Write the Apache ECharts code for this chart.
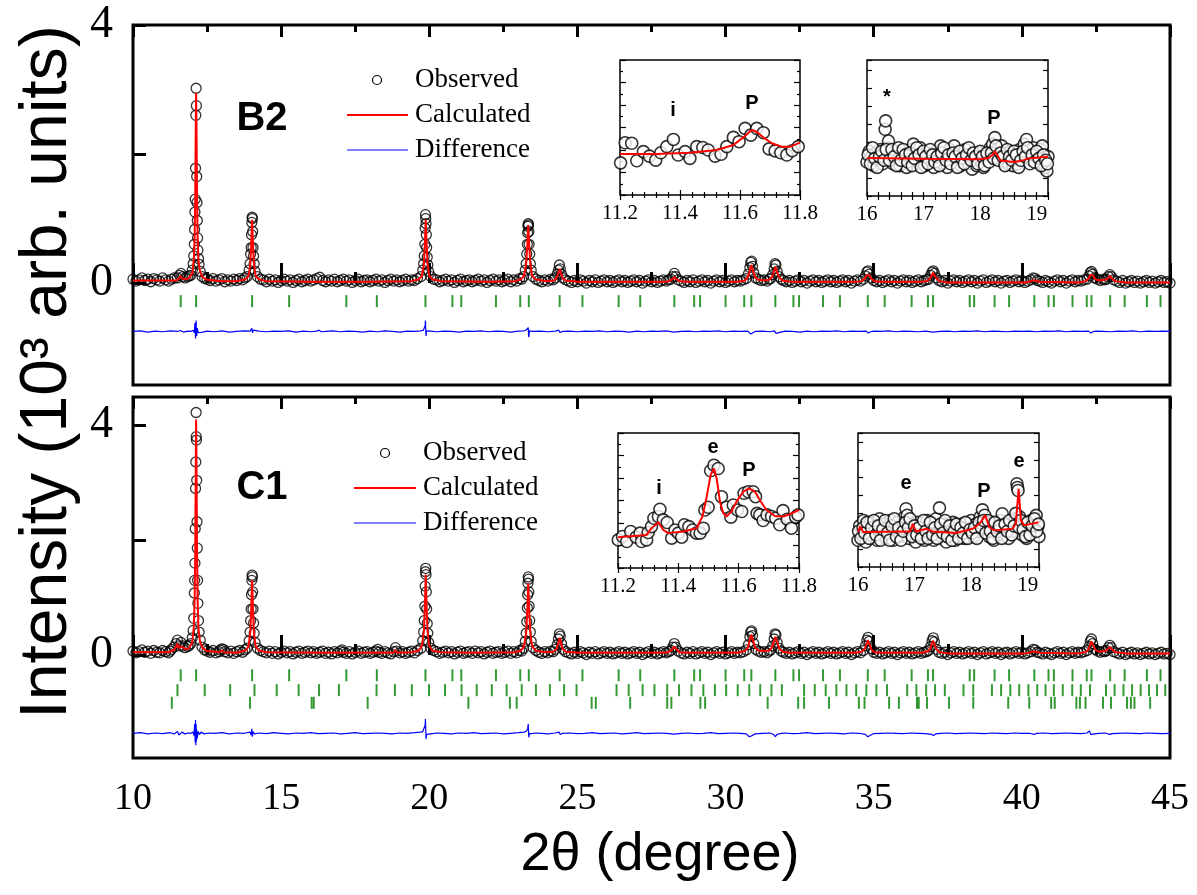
<!DOCTYPE html>
<html><head><meta charset="utf-8">
<script src="https://cdn.jsdelivr.net/npm/echarts@6/dist/echarts.min.js"></script>
<style>html,body{margin:0;padding:0;background:#fff}#c{width:1197px;height:895px}</style>
</head><body><div id="c"></div>
<script>
// ---------------- DATA ----------------
const xTickLabels = [10, 15, 20, 25, 30, 35, 40, 45];
const yTickLabels = [0, 4];

// B2 panel (units of 10^3 counts)
const b2Obs = [[10.0,.06],[10.1,.03],[10.2,.05],[10.3,.08],[10.4,.04],[10.5,.06],[10.6,.02],[10.7,.07],[10.8,.05],[10.9,.03],[11.0,.08],[11.1,.05],[11.2,.03],[11.3,.06],[11.4,.08],
[11.5,.08],[11.57,.12],[11.62,.15],[11.68,.1],[11.76,.08],[11.84,.1],[11.9,.11],
[11.95,.12],[12.0,.2],[12.03,.3],[12.05,.42],[12.07,.6],[12.08,.83],[12.09,1.1],[12.1,1.3],[12.11,1.78],[12.12,2.6],[12.13,3.02],[12.14,2.75],[12.15,1.65],[12.16,1.25],[12.17,.97],[12.18,.7],[12.19,.51],[12.21,.38],[12.23,.29],[12.27,.18],[12.33,.1],[12.42,.07],
[12.5,.06],[12.6,.04],[12.7,.07],[12.8,.03],[12.9,.05],[13.0,.07],[13.1,.02],[13.2,.05],[13.3,.03],[13.4,.06],[13.5,.04],[13.6,.07],[13.7,.05],[13.78,.08],
[13.85,.1],[13.92,.2],[13.95,.3],[13.97,.45],[13.99,.55],[14.0,.75],[14.01,.94],[14.02,1.02],[14.03,1.0],[14.04,.8],[14.05,.55],[14.07,.42],[14.09,.3],[14.12,.18],[14.2,.1],[14.3,.06],
[14.4,.05],[14.5,.02],[14.6,.06],[14.7,.03],[14.8,.05],[14.9,.01],[15.0,.04],[15.1,.06],[15.2,.03],[15.3,.05],[15.4,.01],[15.5,.04],[15.6,.06],[15.7,.02],[15.8,.04],[15.9,.06],[16.0,.03],[16.1,.05],[16.2,.07],[16.3,.09],[16.4,.04],[16.5,.02],[16.6,.05],[16.7,.03],[16.8,.06],[16.9,.02],[17.0,.04],[17.1,.06],[17.2,.03],[17.3,.05],[17.4,.01],[17.5,.04],[17.6,.06],[17.7,.02],[17.8,.04],[17.9,.05],[18.0,.02],[18.1,.04],[18.2,.06],[18.3,.03],[18.4,.05],[18.5,.01],[18.6,.04],[18.7,.06],[18.8,.03],[18.9,.05],[19.0,.02],[19.1,.04],[19.2,.06],[19.3,.03],[19.4,.05],[19.5,.04],[19.6,.07],
[19.72,.1],[19.78,.2],[19.81,.3],[19.83,.42],[19.85,.6],[19.86,.85],[19.87,1.06],[19.88,1.0],[19.89,.92],[19.9,.75],[19.91,.55],[19.93,.4],[19.95,.28],[19.98,.18],[20.05,.1],[20.15,.06],
[20.25,.05],[20.35,.02],[20.45,.04],[20.55,.06],[20.65,.03],[20.75,.05],[20.85,.01],[20.95,.04],[21.05,.06],[21.15,.02],[21.25,.04],[21.35,.05],[21.45,.02],[21.55,.04],[21.65,.06],[21.75,.03],[21.85,.05],[21.95,.01],[22.05,.04],[22.15,.06],[22.25,.03],[22.35,.05],[22.45,.02],[22.55,.04],[22.65,.06],[22.75,.02],[22.85,.05],[22.95,.03],[23.05,.07],[23.12,.06],
[23.18,.1],[23.24,.2],[23.27,.3],[23.29,.45],[23.31,.6],[23.32,.78],[23.33,.88],[23.34,.92],[23.35,.9],[23.36,.8],[23.37,.6],[23.39,.45],[23.41,.3],[23.44,.2],[23.5,.1],[23.6,.06],
[23.7,.04],[23.8,.02],[23.9,.05],[24.0,.03],[24.1,.06],[24.18,.05],
[24.25,.08],[24.32,.14],[24.36,.2],[24.39,.28],[24.42,.22],[24.46,.14],[24.52,.08],
[24.6,.05],[24.7,.03],[24.8,.01],[24.9,.04],[25.0,.02],[25.1,.05],[25.2,.03],[25.3,0],[25.4,.04],[25.5,.02],[25.6,.05],[25.7,.01],[25.8,.03],[25.9,.05],[26.0,.02],[26.1,.04],[26.2,.01],[26.3,.03],[26.4,.05],[26.5,.02],[26.6,.04],[26.7,.01],[26.8,.03],[26.9,.05],[27.0,.02],[27.1,.04],[27.2,0],[27.3,.03],[27.4,.05],[27.5,.02],[27.6,.04],[27.7,.01],[27.8,.03],[27.9,.05],[28.0,.03],[28.08,.05],
[28.15,.06],[28.22,.1],[28.27,.15],[28.32,.1],[28.4,.05],
[28.5,.03],[28.6,.01],[28.7,.04],[28.8,.02],[28.9,.05],[29.0,.01],[29.1,.03],[29.2,.05],[29.3,.02],[29.4,.04],[29.5,0],[29.6,.03],[29.7,.05],[29.8,.02],[29.9,.04],[30.0,.01],[30.1,.03],[30.2,.05],[30.3,.02],[30.4,.04],[30.5,.03],[30.6,.05],
[30.7,.07],[30.77,.14],[30.82,.24],[30.85,.32],[30.88,.34],[30.91,.26],[30.95,.16],[31.02,.08],
[31.1,.06],[31.2,.04],[31.3,.05],[31.4,.03],[31.47,.06],
[31.52,.07],[31.59,.13],[31.64,.22],[31.67,.3],[31.7,.28],[31.74,.18],[31.8,.1],[31.88,.06],
[31.95,.04],[32.05,.02],[32.15,.04],[32.25,.01],[32.35,.03],[32.45,.05],[32.55,.02],[32.65,.04],[32.75,0],[32.85,.03],[32.95,.05],[33.05,.02],[33.15,.04],[33.25,.01],[33.35,.03],[33.45,.05],[33.55,.02],[33.65,.04],[33.75,.01],[33.85,.03],[33.95,.05],[34.05,.02],[34.15,.04],[34.25,0],[34.35,.03],[34.45,.05],[34.55,.03],
[34.65,.06],[34.72,.11],[34.77,.17],[34.81,.19],[34.85,.14],[34.92,.08],
[35.0,.04],[35.1,.02],[35.2,.04],[35.3,.01],[35.4,.03],[35.5,.05],[35.6,.02],[35.7,.04],[35.8,0],[35.9,.03],[36.0,.05],[36.1,.02],[36.2,.04],[36.3,.01],[36.4,.03],[36.5,.05],[36.6,.02],[36.7,.04],[36.78,.05],
[36.85,.06],[36.92,.12],[36.97,.17],[37.01,.19],[37.05,.15],[37.12,.08],
[37.2,.04],[37.3,.02],[37.4,.04],[37.5,0],[37.6,.03],[37.7,.05],[37.8,.02],[37.9,.04],[38.0,.01],[38.1,.03],[38.2,.05],[38.3,.02],[38.4,.04],[38.5,0],[38.6,.03],[38.7,.05],[38.8,.01],[38.9,.03],[39.0,.05],[39.1,.02],[39.2,.04],[39.3,0],[39.4,.03],[39.5,.04],[39.6,.01],[39.7,.03],[39.8,.05],[39.9,.02],[40.0,.04],[40.1,.01],[40.2,.03],
[40.3,.05],[40.38,.08],[40.45,.07],[40.52,.04],
[40.6,.03],[40.7,.01],[40.8,.04],[40.9,.02],[41.0,0],[41.1,.03],[41.2,.05],[41.3,.02],[41.4,.04],[41.5,0],[41.6,.03],[41.7,.05],[41.8,.02],[41.9,.04],[42.0,.03],[42.1,.05],
[42.2,.06],[42.27,.11],[42.31,.16],[42.35,.18],[42.39,.14],[42.46,.08],[42.55,.06],[42.65,.04],[42.75,.06],[42.8,.05],
[42.85,.06],[42.92,.1],[42.97,.13],[43.02,.1],[43.1,.05],
[43.2,.03],[43.3,.01],[43.4,.04],[43.5,0],[43.6,.02],[43.7,.04],[43.8,.01],[43.9,.03],[44.0,0],[44.1,.02],[44.2,.04],[44.3,.01],[44.4,.03],[44.5,0],[44.6,.02],[44.7,.04],[44.8,.01],[44.9,.02],[45.0,0]];

const b2Calc = [[10,.04],[11,.04],[11.45,.04],[11.55,.07],[11.6,.11],[11.66,.07],[11.8,.06],[11.9,.08],[12.0,.15],[12.05,.35],[12.08,.7],[12.1,1.3],[12.12,2.5],[12.13,2.95],[12.14,2.6],[12.16,1.4],[12.18,.7],[12.21,.35],[12.26,.18],[12.35,.09],[12.5,.05],[13.0,.03],[13.5,.03],[13.8,.06],[13.9,.11],[13.96,.3],[13.99,.6],[14.02,.98],[14.05,.6],[14.08,.3],[14.14,.11],[14.25,.06],[14.5,.03],[16,.02],[18,.02],[19.4,.03],[19.65,.06],[19.75,.11],[19.82,.3],[19.85,.6],[19.88,.98],[19.91,.6],[19.94,.3],[20.0,.11],[20.1,.06],[20.4,.03],[22,.02],[22.9,.03],[23.1,.06],[23.2,.11],[23.27,.3],[23.31,.6],[23.34,.9],[23.37,.6],[23.41,.3],[23.47,.11],[23.58,.06],[23.9,.03],[24.2,.04],[24.3,.08],[24.36,.16],[24.4,.22],[24.44,.16],[24.5,.08],[24.6,.04],[25,.02],[28.0,.02],[28.1,.03],[28.2,.06],[28.27,.09],[28.34,.06],[28.45,.03],[28.7,.02],[30.4,.02],[30.65,.04],[30.75,.09],[30.82,.2],[30.87,.28],[30.92,.2],[31.0,.09],[31.1,.05],[31.3,.04],[31.47,.05],[31.57,.09],[31.63,.18],[31.68,.25],[31.73,.18],[31.81,.09],[31.92,.04],[32.2,.02],[34.4,.02],[34.6,.03],[34.7,.07],[34.76,.12],[34.8,.15],[34.85,.12],[34.92,.07],[35.02,.03],[35.3,.02],[36.6,.02],[36.8,.03],[36.9,.07],[36.96,.12],[37.0,.16],[37.05,.12],[37.12,.07],[37.22,.03],[37.5,.01],[40.1,.01],[40.25,.02],[40.35,.04],[40.41,.05],[40.48,.04],[40.58,.02],[41.9,.01],[42.15,.03],[42.25,.07],[42.3,.12],[42.35,.15],[42.4,.12],[42.48,.06],[42.6,.04],[42.8,.05],[42.9,.07],[42.97,.11],[43.04,.07],[43.15,.03],[43.5,.01],[45,.01]];

const b2Diff = [[10,-.75],[10.25,-.74],[10.5,-.76],[10.75,-.745],[11,-.755],[11.25,-.74],[11.5,-.75],[11.6,-.735],[11.7,-.76],[11.85,-.745],[11.95,-.75],[12.03,-.73],[12.07,-.77],[12.09,-.62],[12.1,-.68],[12.11,-.86],[12.12,-.64],[12.13,-.58],[12.14,-.78],[12.15,-.82],[12.17,-.7],[12.2,-.77],[12.25,-.74],[12.35,-.76],[12.5,-.745],[12.75,-.755],[13,-.74],[13.25,-.76],[13.5,-.75],[13.75,-.74],[13.95,-.745],[14.0,-.72],[14.01,-.7],[14.03,-.77],[14.06,-.73],[14.12,-.755],[14.25,-.745],[14.5,-.755],[14.75,-.745],[15,-.75],[15.25,-.74],[15.5,-.76],[15.75,-.745],[16,-.755],[16.2,-.745],[16.28,-.73],[16.35,-.755],[16.5,-.75],[16.75,-.74],[17,-.755],[17.25,-.745],[17.5,-.75],[17.75,-.76],[18,-.745],[18.25,-.755],[18.5,-.74],[18.75,-.75],[19,-.76],[19.25,-.745],[19.5,-.75],[19.7,-.74],[19.8,-.73],[19.84,-.7],[19.86,-.66],[19.87,-.58],[19.88,-.72],[19.89,-.82],[19.91,-.74],[19.95,-.77],[20.05,-.745],[20.25,-.755],[20.5,-.745],[20.75,-.75],[21,-.76],[21.25,-.745],[21.5,-.75],[21.75,-.74],[22,-.755],[22.25,-.745],[22.5,-.75],[22.75,-.76],[23,-.745],[23.2,-.74],[23.28,-.725],[23.32,-.71],[23.34,-.69],[23.35,-.8],[23.36,-.84],[23.38,-.74],[23.42,-.765],[23.5,-.75],[23.75,-.745],[24,-.755],[24.25,-.745],[24.37,-.73],[24.41,-.765],[24.5,-.75],[24.75,-.745],[25,-.755],[25.25,-.745],[25.5,-.75],[25.75,-.74],[26,-.755],[26.25,-.745],[26.5,-.75],[26.75,-.76],[27,-.745],[27.25,-.755],[27.5,-.745],[27.75,-.75],[28,-.74],[28.25,-.76],[28.5,-.75],[28.75,-.745],[29,-.755],[29.25,-.745],[29.5,-.75],[29.75,-.74],[30,-.755],[30.25,-.745],[30.5,-.75],[30.75,-.745],[30.85,-.79],[30.9,-.77],[31,-.75],[31.25,-.745],[31.5,-.755],[31.65,-.74],[31.7,-.78],[31.75,-.755],[32,-.745],[32.25,-.75],[32.5,-.76],[32.75,-.745],[33,-.755],[33.25,-.745],[33.5,-.75],[33.75,-.74],[34,-.755],[34.25,-.745],[34.5,-.75],[34.75,-.745],[34.82,-.775],[34.9,-.755],[35,-.745],[35.25,-.75],[35.5,-.74],[35.75,-.755],[36,-.745],[36.25,-.75],[36.5,-.755],[36.75,-.745],[37,-.76],[37.05,-.745],[37.25,-.75],[37.5,-.745],[37.75,-.755],[38,-.745],[38.25,-.75],[38.5,-.74],[38.75,-.755],[39,-.745],[39.25,-.75],[39.5,-.755],[39.75,-.745],[40,-.75],[40.25,-.745],[40.5,-.755],[40.75,-.745],[41,-.75],[41.25,-.74],[41.5,-.755],[41.75,-.745],[42,-.75],[42.25,-.745],[42.33,-.775],[42.4,-.755],[42.5,-.745],[42.75,-.75],[43,-.755],[43.25,-.745],[43.5,-.75],[43.75,-.74],[44,-.755],[44.25,-.745],[44.5,-.75],[44.75,-.745],[45,-.75]];

const b2Ticks = [11.61,12.13,14.02,15.27,17.20,18.23,19.87,20.78,21.08,22.25,23.07,23.36,24.40,25.17,26.39,27.12,28.27,28.94,29.14,30.00,30.63,30.87,31.68,32.29,32.48,33.29,33.86,34.80,35.37,36.28,36.83,37.00,38.24,38.39,39.08,39.57,40.42,40.90,41.08,41.71,42.19,42.35,42.98,43.47,44.22,44.68];

// C1 panel
const c1Obs = [[10.0,.07],[10.1,.04],[10.2,.06],[10.3,.09],[10.4,.05],[10.5,.07],[10.6,.03],[10.7,.08],[10.8,.05],[10.9,.04],[11.0,.08],[11.1,.06],[11.2,.04],[11.25,.07],
[11.3,.1],[11.38,.14],[11.45,.2],[11.5,.26],[11.55,.16],[11.62,.22],[11.68,.16],[11.75,.13],[11.85,.15],[11.9,.17],
[11.95,.2],[12.0,.3],[12.03,.43],[12.05,.64],[12.07,1.08],[12.08,1.3],[12.09,1.6],[12.1,2.2],[12.11,2.9],[12.12,3.36],[12.13,4.22],[12.135,3.8],[12.14,3.74],[12.15,3.04],[12.16,2.32],[12.17,1.86],[12.18,1.3],[12.19,.9],[12.21,.6],[12.23,.4],[12.27,.26],[12.33,.14],[12.42,.09],
[12.5,.07],[12.6,.05],[12.7,.08],[12.8,.04],[12.9,.06],[12.95,.09],[13.0,.11],[13.05,.1],[13.1,.06],[13.2,.04],[13.3,.07],[13.4,.03],[13.5,.06],[13.6,.08],[13.7,.05],[13.78,.09],
[13.85,.12],[13.92,.25],[13.95,.4],[13.97,.6],[13.99,.8],[14.0,1.05],[14.01,1.3],[14.02,1.39],[14.03,1.36],[14.04,1.1],[14.05,.8],[14.07,.56],[14.09,.38],[14.12,.22],[14.2,.12],[14.3,.08],
[14.4,.06],[14.5,.04],[14.6,.07],[14.7,.03],[14.8,.06],[14.9,.02],[15.0,.05],[15.1,.07],[15.2,.04],[15.3,.06],[15.4,.02],[15.5,.05],[15.6,.07],[15.7,.03],[15.8,.05],[15.9,.07],[16.0,.04],[16.1,.06],[16.2,.03],[16.3,.05],[16.4,.07],[16.5,.03],[16.6,.05],[16.7,.02],[16.8,.06],[16.9,.04],[17.0,.07],[17.06,.09],[17.1,.05],[17.2,.03],[17.3,.06],[17.4,.02],[17.5,.05],[17.6,.07],[17.7,.03],[17.8,.05],[17.9,.06],[18.0,.03],[18.1,.05],[18.2,.07],[18.26,.1],[18.3,.05],[18.4,.03],[18.5,.06],[18.6,.04],[18.7,.02],[18.8,.06],[18.86,.13],[18.9,.07],[19.0,.04],[19.1,.06],[19.2,.03],[19.3,.05],[19.4,.07],[19.5,.04],[19.6,.08],
[19.72,.12],[19.78,.25],[19.81,.4],[19.83,.6],[19.85,.85],[19.86,1.2],[19.87,1.45],[19.88,1.51],[19.89,1.4],[19.9,1.1],[19.91,.8],[19.93,.55],[19.95,.38],[19.98,.22],[20.05,.12],[20.15,.08],
[20.25,.06],[20.35,.03],[20.45,.05],[20.55,.07],[20.65,.04],[20.75,.06],[20.85,.02],[20.95,.05],[21.05,.07],[21.15,.03],[21.25,.05],[21.35,.06],[21.45,.03],[21.55,.07],[21.65,.04],[21.75,.06],[21.85,.02],[21.95,.05],[22.05,.07],[22.15,.03],[22.25,.05],[22.35,.06],[22.45,.03],[22.55,.05],[22.65,.07],[22.75,.03],[22.85,.06],[22.95,.04],[23.05,.08],[23.12,.07],
[23.18,.12],[23.24,.24],[23.27,.38],[23.29,.58],[23.31,.82],[23.32,1.05],[23.33,1.25],[23.34,1.36],[23.35,1.32],[23.36,1.1],[23.37,.85],[23.39,.6],[23.41,.4],[23.44,.24],[23.5,.13],[23.6,.08],
[23.7,.05],[23.8,.03],[23.9,.06],[24.0,.04],[24.1,.07],[24.18,.06],
[24.25,.1],[24.32,.18],[24.36,.28],[24.39,.37],[24.42,.33],[24.46,.2],[24.52,.1],
[24.6,.06],[24.7,.04],[24.8,.02],[24.9,.05],[25.0,.03],[25.1,.06],[25.2,.04],[25.3,.01],[25.4,.05],[25.5,.03],[25.6,.06],[25.7,.02],[25.8,.04],[25.9,.06],[26.0,.03],[26.1,.05],[26.2,.02],[26.3,.04],[26.4,.06],[26.5,.03],[26.6,.05],[26.7,.02],[26.8,.04],[26.9,.06],[27.0,.03],[27.1,.05],[27.2,.01],[27.3,.04],[27.4,.06],[27.5,.03],[27.6,.05],[27.7,.02],[27.8,.04],[27.9,.06],[28.0,.04],[28.08,.06],
[28.15,.08],[28.22,.14],[28.27,.2],[28.32,.14],[28.4,.07],
[28.5,.04],[28.6,.02],[28.7,.05],[28.8,.03],[28.9,.06],[29.0,.02],[29.1,.04],[29.2,.06],[29.3,.03],[29.4,.05],[29.5,.01],[29.6,.04],[29.7,.06],[29.8,.03],[29.9,.05],[30.0,.02],[30.1,.04],[30.2,.06],[30.3,.03],[30.4,.05],[30.5,.04],[30.6,.06],
[30.7,.09],[30.77,.18],[30.82,.32],[30.85,.4],[30.88,.42],[30.91,.34],[30.95,.2],[31.02,.1],
[31.1,.07],[31.2,.05],[31.3,.06],[31.4,.04],[31.47,.07],
[31.52,.09],[31.59,.16],[31.64,.28],[31.67,.37],[31.7,.35],[31.74,.22],[31.8,.12],[31.88,.07],
[31.95,.05],[32.05,.03],[32.15,.05],[32.25,.02],[32.35,.04],[32.45,.06],[32.55,.03],[32.65,.05],[32.75,.01],[32.85,.04],[32.95,.06],[33.05,.03],[33.15,.05],[33.25,.02],[33.35,.04],[33.45,.06],[33.55,.03],[33.65,.05],[33.75,.02],[33.85,.04],[33.95,.06],[34.05,.03],[34.15,.05],[34.25,.01],[34.35,.04],[34.45,.06],[34.55,.04],
[34.65,.08],[34.72,.16],[34.77,.26],[34.81,.31],[34.85,.24],[34.92,.11],
[35.0,.05],[35.1,.03],[35.2,.05],[35.3,.02],[35.4,.04],[35.5,.06],[35.6,.03],[35.7,.05],[35.8,.01],[35.9,.04],[36.0,.06],[36.1,.03],[36.2,.05],[36.3,.02],[36.4,.04],[36.5,.06],[36.6,.03],[36.7,.05],[36.78,.06],
[36.85,.08],[36.92,.15],[36.97,.25],[37.01,.3],[37.05,.23],[37.12,.1],
[37.2,.05],[37.3,.03],[37.4,.05],[37.5,.01],[37.6,.04],[37.7,.06],[37.8,.03],[37.9,.05],[38.0,.02],[38.1,.04],[38.2,.06],[38.3,.03],[38.4,.05],[38.5,.01],[38.6,.04],[38.7,.06],[38.8,.02],[38.9,.04],[39.0,.06],[39.1,.03],[39.2,.05],[39.3,.01],[39.4,.04],[39.5,.05],[39.6,.02],[39.7,.04],[39.8,.06],[39.9,.03],[40.0,.05],[40.1,.02],[40.2,.04],
[40.3,.06],[40.38,.1],[40.45,.09],[40.52,.05],
[40.6,.04],[40.7,.02],[40.8,.05],[40.9,.03],[41.0,.01],[41.1,.04],[41.2,.06],[41.3,.03],[41.4,.05],[41.5,.01],[41.6,.04],[41.7,.06],[41.8,.03],[41.9,.05],[42.0,.04],[42.1,.06],
[42.2,.08],[42.27,.15],[42.31,.24],[42.35,.28],[42.39,.2],[42.46,.1],[42.55,.07],[42.65,.05],[42.75,.07],[42.8,.06],
[42.85,.08],[42.92,.13],[42.97,.17],[43.02,.13],[43.1,.06],
[43.2,.04],[43.3,.02],[43.4,.05],[43.5,.01],[43.6,.03],[43.7,.05],[43.8,.02],[43.9,.04],[44.0,.01],[44.1,.03],[44.2,.05],[44.3,.02],[44.4,.04],[44.5,.01],[44.6,.03],[44.7,.05],[44.8,.02],[44.9,.03],[45.0,.01]];

const c1Calc = [[10,.05],[11.2,.05],[11.35,.08],[11.45,.14],[11.5,.2],[11.55,.12],[11.62,.15],[11.68,.12],[11.8,.1],[11.9,.13],[12.0,.22],[12.05,.48],[12.08,.95],[12.1,1.75],[12.12,3.4],[12.13,4.1],[12.14,3.6],[12.16,1.9],[12.18,.95],[12.21,.46],[12.26,.24],[12.35,.12],[12.5,.07],[12.9,.05],[13.0,.08],[13.08,.05],[13.5,.04],[13.8,.08],[13.9,.15],[13.96,.4],[13.99,.8],[14.02,1.3],[14.05,.8],[14.08,.4],[14.14,.15],[14.25,.08],[14.5,.05],[16.3,.04],[17.0,.04],[17.06,.06],[17.12,.04],[18.2,.04],[18.26,.06],[18.32,.04],[18.8,.04],[18.86,.09],[18.92,.04],[19.4,.05],[19.65,.08],[19.75,.16],[19.82,.42],[19.85,.85],[19.88,1.4],[19.91,.85],[19.94,.42],[20.0,.16],[20.1,.08],[20.4,.05],[21.5,.04],[22.9,.05],[23.1,.08],[23.2,.16],[23.27,.38],[23.31,.8],[23.34,1.25],[23.37,.8],[23.41,.38],[23.47,.16],[23.58,.08],[23.9,.05],[24.2,.06],[24.3,.11],[24.36,.22],[24.4,.3],[24.44,.22],[24.5,.11],[24.6,.06],[25,.04],[28.0,.04],[28.1,.06],[28.2,.1],[28.27,.15],[28.34,.1],[28.45,.05],[28.7,.04],[30.4,.04],[30.65,.07],[30.75,.13],[30.82,.27],[30.87,.36],[30.92,.27],[31.0,.13],[31.1,.08],[31.3,.07],[31.47,.08],[31.57,.13],[31.63,.24],[31.68,.32],[31.73,.24],[31.81,.12],[31.92,.06],[32.2,.04],[34.4,.04],[34.6,.06],[34.7,.11],[34.76,.2],[34.8,.26],[34.85,.2],[34.92,.1],[35.02,.05],[35.3,.04],[36.6,.04],[36.8,.06],[36.9,.1],[36.96,.19],[37.0,.25],[37.05,.19],[37.12,.1],[37.22,.05],[37.5,.03],[40.1,.03],[40.25,.04],[40.35,.06],[40.41,.08],[40.48,.06],[40.58,.04],[41.9,.03],[42.15,.05],[42.25,.1],[42.3,.18],[42.35,.24],[42.4,.18],[42.48,.09],[42.6,.06],[42.8,.07],[42.9,.1],[42.97,.14],[43.04,.1],[43.15,.05],[43.5,.03],[45,.03]];

const c1Diff = [[10,-1.36],[10.25,-1.35],[10.5,-1.37],[10.75,-1.355],[11,-1.365],[11.25,-1.35],[11.4,-1.37],[11.5,-1.33],[11.55,-1.39],[11.65,-1.34],[11.75,-1.37],[11.85,-1.355],[11.95,-1.36],[12.03,-1.34],[12.06,-1.4],[12.08,-1.2],[12.1,-1.52],[12.11,-1.13],[12.12,-1.57],[12.13,-1.2],[12.14,-1.5],[12.15,-1.3],[12.17,-1.45],[12.2,-1.33],[12.25,-1.38],[12.3,-1.34],[12.4,-1.37],[12.55,-1.355],[12.75,-1.36],[13,-1.35],[13.25,-1.37],[13.5,-1.355],[13.75,-1.36],[13.95,-1.34],[13.99,-1.39],[14.01,-1.28],[14.03,-1.42],[14.05,-1.33],[14.1,-1.37],[14.25,-1.355],[14.5,-1.365],[14.75,-1.35],[15,-1.36],[15.25,-1.37],[15.5,-1.355],[15.75,-1.36],[16,-1.35],[16.25,-1.365],[16.5,-1.36],[16.75,-1.355],[17,-1.37],[17.25,-1.36],[17.5,-1.35],[17.75,-1.365],[18,-1.36],[18.25,-1.355],[18.5,-1.36],[18.75,-1.37],[19,-1.355],[19.25,-1.36],[19.5,-1.35],[19.7,-1.34],[19.78,-1.33],[19.83,-1.3],[19.86,-1.22],[19.87,-1.11],[19.88,-1.3],[19.89,-1.46],[19.91,-1.38],[19.95,-1.36],[20.1,-1.365],[20.25,-1.355],[20.5,-1.36],[20.75,-1.37],[21,-1.355],[21.25,-1.36],[21.5,-1.35],[21.75,-1.365],[22,-1.36],[22.25,-1.355],[22.5,-1.37],[22.75,-1.36],[23,-1.35],[23.2,-1.34],[23.28,-1.32],[23.32,-1.28],[23.34,-1.2],[23.35,-1.34],[23.36,-1.43],[23.38,-1.36],[23.45,-1.365],[23.6,-1.355],[23.8,-1.36],[24,-1.37],[24.25,-1.355],[24.38,-1.34],[24.42,-1.38],[24.5,-1.36],[24.75,-1.355],[25,-1.365],[25.25,-1.36],[25.5,-1.35],[25.75,-1.365],[26,-1.36],[26.25,-1.355],[26.5,-1.37],[26.75,-1.36],[27,-1.35],[27.25,-1.365],[27.5,-1.36],[27.75,-1.355],[28,-1.36],[28.25,-1.375],[28.5,-1.36],[28.75,-1.355],[29,-1.365],[29.25,-1.36],[29.5,-1.35],[29.75,-1.365],[30,-1.36],[30.25,-1.355],[30.5,-1.36],[30.7,-1.37],[30.8,-1.42],[30.85,-1.45],[30.9,-1.4],[31,-1.37],[31.25,-1.36],[31.5,-1.355],[31.62,-1.38],[31.68,-1.42],[31.74,-1.38],[31.9,-1.36],[32,-1.355],[32.25,-1.365],[32.5,-1.36],[32.75,-1.35],[33,-1.365],[33.25,-1.36],[33.5,-1.355],[33.75,-1.36],[34,-1.37],[34.25,-1.355],[34.5,-1.36],[34.72,-1.38],[34.8,-1.42],[34.86,-1.39],[35,-1.365],[35.25,-1.36],[35.5,-1.355],[35.75,-1.36],[36,-1.365],[36.25,-1.355],[36.5,-1.36],[36.75,-1.365],[36.95,-1.38],[37.02,-1.4],[37.1,-1.37],[37.25,-1.36],[37.5,-1.355],[37.75,-1.365],[38,-1.36],[38.25,-1.355],[38.5,-1.36],[38.75,-1.365],[39,-1.355],[39.25,-1.36],[39.5,-1.365],[39.75,-1.355],[40,-1.36],[40.25,-1.36],[40.42,-1.38],[40.5,-1.36],[40.75,-1.355],[41,-1.365],[41.25,-1.36],[41.5,-1.355],[41.75,-1.36],[42,-1.365],[42.2,-1.355],[42.28,-1.32],[42.33,-1.38],[42.38,-1.41],[42.45,-1.37],[42.6,-1.36],[42.8,-1.355],[42.97,-1.38],[43.05,-1.365],[43.25,-1.36],[43.5,-1.355],[43.75,-1.36],[44,-1.365],[44.25,-1.355],[44.5,-1.36],[44.75,-1.365],[45,-1.36]];

const c1TicksRow1 = [11.61,12.13,14.02,15.27,17.20,18.23,19.87,20.78,21.08,22.25,23.07,23.36,24.40,25.17,26.39,27.12,28.27,28.94,29.14,30.00,30.63,30.87,31.68,32.29,32.48,33.29,33.86,34.80,35.37,36.28,36.83,37.00,38.24,38.39,39.08,39.57,40.42,40.90,41.08,41.71,42.19,42.35,42.98,43.47,44.22,44.68];
const c1TicksRow2 = [11.50,12.42,13.28,14.10,14.85,15.59,16.28,16.95,18.22,18.84,19.41,19.99,20.53,21.09,21.60,22.11,22.61,23.12,23.60,24.07,24.55,24.97,26.32,26.73,27.20,27.60,28.03,28.43,28.85,29.25,29.64,30.02,30.41,30.80,31.17,31.55,31.90,32.65,33.01,33.38,33.74,34.08,34.41,34.75,35.09,35.45,36.13,36.44,36.77,37.07,37.40,38.03,38.36,38.99,39.30,39.61,39.91,40.22,40.52,40.80,41.08,41.38,41.70,41.99,42.30,42.84,43.13,43.43,43.72,44.01,44.29,44.56,44.84];
const c1TicksRow3 = [11.31,13.95,16.03,16.10,17.92,21.32,22.72,22.95,25.48,25.62,26.78,28.03,28.17,29.15,29.31,31.42,32.45,32.65,33.49,34.50,34.69,35.52,35.85,36.46,36.52,36.80,37.54,38.36,39.54,40.25,40.99,41.11,41.84,41.96,42.15,42.74,43.01,43.55,43.68,43.80,44.33];

// Insets (arbitrary units)
const in1Obs = [[11.202,1.43],[11.217,2.32],[11.239,2.30],[11.256,1.52],[11.278,1.93],[11.298,1.73],[11.319,1.55],[11.336,1.88],[11.356,2.15],[11.378,2.47],[11.394,1.78],[11.417,1.93],[11.433,1.63],[11.456,2.15],[11.476,2.11],[11.494,2.00],[11.517,1.73],[11.537,1.81],[11.556,2.15],[11.578,2.56],[11.597,2.37],[11.617,2.96],[11.636,2.66],[11.656,2.96],[11.678,2.77],[11.697,2.05],[11.717,1.96],[11.736,1.88],[11.756,1.78],[11.774,1.97],[11.794,2.15]];
const in1Calc = [[11.2,1.82],[11.322,1.82],[11.433,1.88],[11.522,2.0],[11.578,2.22],[11.611,2.56],[11.639,2.89],[11.656,2.81],[11.678,2.56],[11.706,2.30],[11.739,2.15],[11.767,2.15],[11.8,2.33]];

const in2Obs = [[16.00,1.9],[16.04,2.5],[16.08,2.2],[16.12,1.7],[16.16,2.4],[16.2,2.0],[16.24,2.6],[16.28,1.8],[16.32,3.73],[16.33,4.2],[16.36,2.7],[16.38,3.07],[16.42,2.3],[16.46,1.8],[16.5,2.5],[16.54,2.1],[16.58,1.7],[16.62,2.4],[16.66,2.0],[16.7,1.6],[16.74,2.2],[16.78,2.6],[16.82,2.9],[16.86,2.3],[16.9,1.9],[16.94,2.7],[16.98,2.1],[17.02,1.7],[17.06,2.4],[17.1,1.9],[17.14,2.2],[17.18,1.6],[17.22,2.5],[17.26,2.0],[17.3,2.8],[17.34,1.8],[17.38,2.3],[17.42,1.6],[17.46,2.6],[17.5,2.1],[17.54,2.8],[17.58,1.9],[17.62,2.4],[17.66,1.7],[17.7,2.2],[17.74,2.6],[17.78,1.8],[17.82,2.3],[17.86,1.5],[17.9,2.0],[17.94,1.7],[17.98,2.4],[18.02,1.9],[18.06,1.6],[18.1,2.2],[18.14,2.0],[18.18,2.7],[18.22,2.9],[18.26,3.26],[18.3,2.6],[18.34,2.2],[18.38,2.8],[18.42,1.9],[18.46,2.4],[18.5,1.8],[18.54,2.5],[18.58,1.7],[18.62,2.1],[18.66,1.8],[18.7,2.6],[18.74,2.2],[18.78,2.9],[18.82,3.16],[18.86,2.5],[18.9,2.0],[18.94,2.7],[18.98,2.3],[19.02,1.9],[19.06,2.6],[19.1,2.8],[19.14,1.6],[19.18,1.4],[19.2,2.2],
[16.02,2.3],[16.06,1.8],[16.1,2.7],[16.14,2.1],[16.18,1.6],[16.22,2.2],[16.26,2.5],[16.3,2.0],[16.34,2.6],[16.4,2.0],[16.44,2.6],[16.48,2.2],[16.52,1.7],[16.56,2.7],[16.6,2.0],[16.64,2.6],[16.68,2.3],[16.72,1.9],[16.76,2.4],[16.8,1.7],[16.84,2.1],[16.88,2.7],[16.92,2.3],[16.96,1.6],[17.0,2.5],[17.04,2.2],[17.08,1.8],[17.12,2.6],[17.16,2.3],[17.2,1.9],[17.24,2.2],[17.28,1.7],[17.32,2.4],[17.36,2.7],[17.4,2.0],[17.44,2.3],[17.48,1.8],[17.52,2.4],[17.56,2.2],[17.6,1.6],[17.64,2.5],[17.68,2.1],[17.72,1.8],[17.76,2.3],[17.8,2.7],[17.84,2.0],[17.88,2.4],[17.92,2.2],[17.96,1.8],[18.0,2.5],[18.04,2.2],[18.08,1.7],[18.12,2.4],[18.16,1.9],[18.2,2.4],[18.24,2.1],[18.28,2.8],[18.32,2.0],[18.36,2.4],[18.4,2.2],[18.44,1.7],[18.48,2.6],[18.52,2.2],[18.56,2.0],[18.6,2.5],[18.64,2.3],[18.68,1.6],[18.72,2.0],[18.76,2.5],[18.8,2.2],[18.84,2.7],[18.88,1.8],[18.92,2.3],[18.96,1.9],[19.0,2.5],[19.04,2.1],[19.08,1.7],[19.12,2.3],[19.16,2.0],[19.19,1.8]];
const in2Calc = [[16,2.13],[17,2.08],[18.0,2.05],[18.15,2.12],[18.22,2.3],[18.26,2.5],[18.3,2.3],[18.36,1.98],[18.6,1.9],[18.75,1.98],[18.85,2.1],[19.2,2.2]];

const in3Obs = [[11.201,1.25],[11.215,1.40],[11.229,1.18],[11.242,1.62],[11.260,1.37],[11.273,1.55],[11.278,1.18],[11.295,1.25],[11.300,1.58],[11.311,1.84],[11.319,2.21],[11.334,2.29],[11.339,2.61],[11.350,2.14],[11.363,2.02],[11.378,1.33],[11.389,1.69],[11.400,1.55],[11.411,1.37],[11.420,1.92],[11.435,1.84],[11.447,1.69],[11.460,1.55],[11.472,1.55],[11.483,1.77],[11.488,2.58],[11.499,2.70],[11.507,4.32],[11.518,4.57],[11.532,4.42],[11.543,3.17],[11.560,2.70],[11.574,2.26],[11.582,2.80],[11.596,2.58],[11.610,2.51],[11.618,3.32],[11.632,3.39],[11.648,3.39],[11.656,3.17],[11.661,2.43],[11.670,2.36],[11.681,2.11],[11.694,2.36],[11.709,2.29],[11.723,2.21],[11.736,1.92],[11.747,2.55],[11.761,2.17],[11.775,1.77],[11.789,2.26],[11.797,2.36]];
const in3Calc = [[11.2,1.37],[11.295,1.47],[11.311,1.77],[11.334,2.03],[11.350,1.69],[11.367,1.55],[11.416,1.62],[11.460,1.77],[11.480,2.29],[11.494,3.17],[11.507,4.13],[11.518,4.42],[11.527,3.98],[11.538,2.95],[11.549,2.43],[11.560,2.29],[11.576,2.51],[11.593,2.95],[11.615,3.39],[11.635,3.54],[11.654,3.39],[11.670,3.02],[11.692,2.58],[11.720,2.31],[11.747,2.29],[11.770,2.39],[11.8,2.58]];

const in4Obs = [[16.0,1.5],[16.03,2.3],[16.07,1.8],[16.1,2.6],[16.14,1.4],[16.18,2.1],[16.22,2.5],[16.26,1.7],[16.3,2.2],[16.34,1.5],[16.38,2.7],[16.42,1.9],[16.46,2.4],[16.5,1.6],[16.54,2.2],[16.58,2.6],[16.62,1.5],[16.66,2.0],[16.7,2.5],[16.74,1.7],[16.78,2.3],[16.82,2.8],[16.85,3.26],[16.87,2.9],[16.9,1.6],[16.94,2.4],[16.98,2.0],[17.02,1.4],[17.06,2.5],[17.1,1.8],[17.14,2.2],[17.18,1.5],[17.22,2.6],[17.26,1.9],[17.3,2.3],[17.34,1.5],[17.38,2.7],[17.42,2.0],[17.44,3.31],[17.48,1.7],[17.52,2.4],[17.56,1.4],[17.6,2.2],[17.64,1.8],[17.68,2.5],[17.72,1.5],[17.76,2.1],[17.8,1.7],[17.84,2.4],[17.88,1.6],[17.92,2.2],[17.96,1.9],[18.0,2.6],[18.04,1.7],[18.08,2.4],[18.12,2.0],[18.16,2.8],[18.2,3.2],[18.24,2.9],[18.28,2.3],[18.32,1.7],[18.36,2.5],[18.4,1.5],[18.44,2.2],[18.48,1.8],[18.52,2.6],[18.55,2.98],[18.58,1.9],[18.62,2.3],[18.66,1.6],[18.7,2.4],[18.74,2.0],[18.78,2.7],[18.81,4.66],[18.82,4.45],[18.83,4.28],[18.86,2.8],[18.9,1.8],[18.94,2.5],[18.98,1.6],[19.02,2.2],[19.06,2.6],[19.1,1.9],[19.15,2.89],[19.18,2.3],[19.2,1.7],
[16.01,2.0],[16.05,1.6],[16.09,2.2],[16.12,1.9],[16.16,2.5],[16.2,1.6],[16.24,2.2],[16.28,2.6],[16.32,1.8],[16.36,2.3],[16.4,1.5],[16.44,2.1],[16.48,2.6],[16.52,1.9],[16.56,1.5],[16.6,2.3],[16.64,2.7],[16.68,1.7],[16.72,2.2],[16.76,1.5],[16.8,2.0],[16.84,2.5],[16.89,2.2],[16.92,2.7],[16.96,1.7],[17.0,2.3],[17.04,1.8],[17.08,2.2],[17.12,1.6],[17.16,2.6],[17.2,2.0],[17.24,1.6],[17.28,2.5],[17.32,1.8],[17.36,2.2],[17.4,1.6],[17.46,2.4],[17.5,1.9],[17.54,2.6],[17.58,1.7],[17.62,2.3],[17.66,1.5],[17.7,2.0],[17.74,2.4],[17.78,1.6],[17.82,2.2],[17.86,1.9],[17.9,2.5],[17.94,1.6],[17.98,2.1],[18.02,1.9],[18.06,2.2],[18.1,1.6],[18.14,2.5],[18.18,2.2],[18.22,2.6],[18.26,1.9],[18.3,2.6],[18.34,2.0],[18.38,1.6],[18.42,2.5],[18.46,2.0],[18.5,2.3],[18.54,1.6],[18.6,2.4],[18.64,2.0],[18.68,2.6],[18.72,1.8],[18.76,2.3],[18.79,3.0],[18.85,2.2],[18.88,2.6],[18.92,2.1],[18.96,1.7],[19.0,2.5],[19.04,1.8],[19.08,2.3],[19.12,2.7],[19.16,2.0],[19.19,2.4]];
const in4Calc = [[16.0,1.96],[16.04,2.27],[16.09,1.96],[16.85,1.99],[16.92,1.99],[16.97,2.42],[17.02,1.99],[17.21,2.14],[17.32,1.99],[17.73,1.9],[18.03,2.14],[18.15,2.42],[18.25,2.89],[18.32,2.24],[18.41,2.05],[18.73,2.14],[18.79,2.42],[18.84,4.38],[18.88,2.61],[18.94,2.33],[19.19,2.51]];

// ---------------- LAYOUT / STYLE ----------------
const TICK_ROW_B2 = -0.28;
const TICK_ROWS_C1 = [-0.35, -0.61, -0.83];
const SERIF = '"Liberation Serif", "Times New Roman", serif';
const SANS = '"Liberation Sans", Arial, sans-serif';

function xAx(grid, pos, min, max, interval, split, len, minorLen, lw, label) {
  return {
    type: 'value', gridIndex: grid, position: pos, min: min, max: max, interval: interval,
    axisLine: {show: false}, splitLine: {show: false},
    axisTick: {show: true, inside: true, length: len, lineStyle: {color: '#000', width: lw}},
    minorTick: {show: split > 0, splitNumber: split || 1, length: minorLen, lineStyle: {color: '#000', width: lw}},
    axisLabel: label ? Object.assign({show: true, color: '#000', fontFamily: SERIF}, label) : {show: false}
  };
}
function yAx(grid, pos, min, max, interval, split, len, minorLen, lw, extra) {
  const a = {
    type: 'value', gridIndex: grid, position: pos, min: min, max: max,
    axisLine: {show: false}, splitLine: {show: false},
    axisTick: {show: true, inside: true, length: len, lineStyle: {color: '#000', width: lw}},
    minorTick: {show: split > 0, splitNumber: split || 1, length: minorLen, lineStyle: {color: '#000', width: lw}},
    axisLabel: {show: false}
  };
  if (interval) a.interval = interval;
  return Object.assign(a, extra || {});
}

const mainYLabel = {show: true, customValues: yTickLabels, color: '#000', fontFamily: SERIF, fontSize: 46, margin: 20};
const mainYTick = {show: true, inside: true, length: 13, customValues: [0, 2, 4], lineStyle: {color: '#000', width: 3}};

const option = {
  animation: false,
  backgroundColor: '#fff',
  grid: [
    {left: 133, top: 25, width: 1037, height: 360, show: true, borderColor: '#000', borderWidth: 3, backgroundColor: 'transparent'},
    {left: 133, top: 397, width: 1037, height: 361, show: true, borderColor: '#000', borderWidth: 3, backgroundColor: 'transparent'},
    {left: 620, top: 60, width: 180, height: 135, show: true, borderColor: '#000', borderWidth: 1.5, backgroundColor: '#fff'},
    {left: 867, top: 60, width: 181, height: 136, show: true, borderColor: '#000', borderWidth: 1.5, backgroundColor: '#fff'},
    {left: 618, top: 433, width: 181, height: 135, show: true, borderColor: '#000', borderWidth: 1.5, backgroundColor: '#fff'},
    {left: 858, top: 433, width: 181, height: 134, show: true, borderColor: '#000', borderWidth: 1.5, backgroundColor: '#fff'}
  ],
  xAxis: [
    xAx(0, 'bottom', 10, 45, 5, 2, 20, 11, 3, null),
    xAx(0, 'top', 10, 45, 5, 2, 12, 7, 3, null),
    xAx(1, 'bottom', 10, 45, 5, 2, 20, 11, 3, {customValues: xTickLabels, fontSize: 38, margin: 22}),
    xAx(1, 'top', 10, 45, 5, 2, 12, 7, 3, null),
    xAx(2, 'bottom', 11.2, 11.8, 0.2, 5, 5, 3, 1.2, {fontSize: 21, margin: 8, formatter: v => v.toFixed(1)}),
    xAx(2, 'top', 11.2, 11.8, 0.2, 5, 5, 3, 1.2, null),
    xAx(3, 'bottom', 16, 19.2, 0.2, 0, 4, 3, 1.2, {fontSize: 21, margin: 8, customValues: [16, 17, 18, 19]}),
    xAx(3, 'top', 16, 19.2, 0.2, 0, 4, 3, 1.2, null),
    xAx(4, 'bottom', 11.2, 11.8, 0.2, 5, 5, 3, 1.2, {fontSize: 21, margin: 8, formatter: v => v.toFixed(1)}),
    xAx(4, 'top', 11.2, 11.8, 0.2, 5, 5, 3, 1.2, null),
    xAx(5, 'bottom', 16, 19.2, 0.2, 0, 4, 3, 1.2, {fontSize: 21, margin: 8, customValues: [16, 17, 18, 19]}),
    xAx(5, 'top', 16, 19.2, 0.2, 0, 4, 3, 1.2, null)
  ],
  yAxis: [
    yAx(0, 'left', -1.58, 4, null, 0, 13, 0, 3, {axisTick: mainYTick, axisLabel: mainYLabel}),
    yAx(1, 'left', -1.79, 4.49, null, 0, 13, 0, 3, {axisTick: mainYTick, axisLabel: mainYLabel}),
    yAx(2, 'left', 0, 6, 1, 2, 6, 3, 1.2),
    yAx(2, 'right', 0, 6, 1, 2, 6, 3, 1.2),
    yAx(3, 'left', 0, 7.6, 1, 0, 5, 3, 1.2),
    yAx(3, 'right', 0, 7.6, 1, 0, 5, 3, 1.2),
    yAx(4, 'left', 0, 6, 1, 2, 6, 3, 1.2),
    yAx(4, 'right', 0, 6, 1, 2, 6, 3, 1.2),
    yAx(5, 'left', 0, 7.5, 1, 0, 5, 3, 1.2),
    yAx(5, 'right', 0, 7.5, 1, 0, 5, 3, 1.2)
  ],
  series: []
};

function obs(name, data, xi, yi, size, fill, bw) {
  return {name: name, type: 'scatter', xAxisIndex: xi, yAxisIndex: yi, data: data, symbol: 'circle', symbolSize: size,
    itemStyle: {color: fill, borderColor: '#000', borderWidth: bw}, emphasis: {disabled: true}, z: 2};
}
function line(name, data, xi, yi, color, w) {
  return {name: name, type: 'line', xAxisIndex: xi, yAxisIndex: yi, data: data, showSymbol: false, symbol: 'none',
    lineStyle: {color: color, width: w}, emphasis: {disabled: true}, z: 3};
}
function ticks(data, y, xi, yi) {
  return {name: 'Bragg', type: 'scatter', xAxisIndex: xi, yAxisIndex: yi, data: data.map(v => [v, y]),
    symbol: 'rect', symbolSize: [2, 12], itemStyle: {color: '#008000'}, emphasis: {disabled: true}, z: 3};
}

option.series.push(
  obs('Observed', b2Obs, 0, 0, 10, 'rgba(0,0,0,0)', 1.3),
  line('Calculated', b2Calc, 0, 0, '#ff0000', 2),
  line('Difference', b2Diff, 0, 0, '#0000ff', 1.2),
  ticks(b2Ticks, TICK_ROW_B2, 0, 0),
  obs('Observed', c1Obs, 2, 1, 10, 'rgba(0,0,0,0)', 1.3),
  line('Calculated', c1Calc, 2, 1, '#ff0000', 2),
  line('Difference', c1Diff, 2, 1, '#0000ff', 1.2),
  ticks(c1TicksRow1, TICK_ROWS_C1[0], 2, 1),
  ticks(c1TicksRow2, TICK_ROWS_C1[1], 2, 1),
  ticks(c1TicksRow3, TICK_ROWS_C1[2], 2, 1),
  obs('Observed', in1Obs, 4, 2, 12, '#fff', 1.6),
  line('Calculated', in1Calc, 4, 2, '#ff0000', 2),
  obs('Observed', in2Obs, 6, 4, 12, '#fff', 1.6),
  line('Calculated', in2Calc, 6, 4, '#ff0000', 2),
  obs('Observed', in3Obs, 8, 6, 12, '#fff', 1.6),
  line('Calculated', in3Calc, 8, 6, '#ff0000', 2),
  obs('Observed', in4Obs, 10, 8, 12, '#fff', 1.6),
  line('Calculated', in4Calc, 10, 8, '#ff0000', 2)
);

function txt(x, y, s, font, align) {
  return {type: 'text', x: x, y: y, z: 10, style: {text: s, font: font, fill: '#000', align: align || 'center', verticalAlign: 'middle'}};
}
function legend(cx, y0, lx1, lx2, tx) {
  return [
    {type: 'circle', z: 10, shape: {cx: cx, cy: y0, r: 4.5}, style: {fill: 'none', stroke: '#000', lineWidth: 1.2}},
    txt(tx, y0, 'Observed', '27px ' + SERIF, 'left'),
    {type: 'line', z: 10, shape: {x1: lx1, y1: y0 + 35, x2: lx2, y2: y0 + 35}, style: {stroke: '#ff0000', lineWidth: 2}},
    txt(tx, y0 + 35, 'Calculated', '27px ' + SERIF, 'left'),
    {type: 'line', z: 10, shape: {x1: lx1, y1: y0 + 70, x2: lx2, y2: y0 + 70}, style: {stroke: '#0000ff', lineWidth: 1.2}},
    txt(tx, y0 + 70, 'Difference', '27px ' + SERIF, 'left')
  ];
}
const B = 'bold 20px ' + SANS;
option.graphic = [].concat(
  [{type: 'text', x: 48, y: 372, rotation: Math.PI / 2, z: 10,
    style: {text: 'Intensity (10³ arb. units)', font: '66px ' + SANS, fill: '#000', align: 'center', verticalAlign: 'middle'}}],
  [txt(660, 855, '2θ (degree)', '54px ' + SANS)],
  [txt(262, 119, 'B2', 'bold 40px ' + SANS), txt(262, 488, 'C1', 'bold 40px ' + SANS)],
  legend(377, 80, 347, 408, 415),
  legend(385, 453, 354, 416, 423),
  [txt(673, 110, 'i', B), txt(752, 103, 'P', B), txt(887, 97, '*', B), txt(994, 118, 'P', B),
   txt(659, 488, 'i', B), txt(713, 447, 'e', B), txt(749, 470, 'P', B),
   txt(906, 483, 'e', B), txt(984, 491, 'P', B), txt(1019, 461, 'e', B)]
);

const chart = echarts.init(document.getElementById('c'), null, {renderer: 'canvas'});
chart.setOption(option);
</script>
</body></html>
